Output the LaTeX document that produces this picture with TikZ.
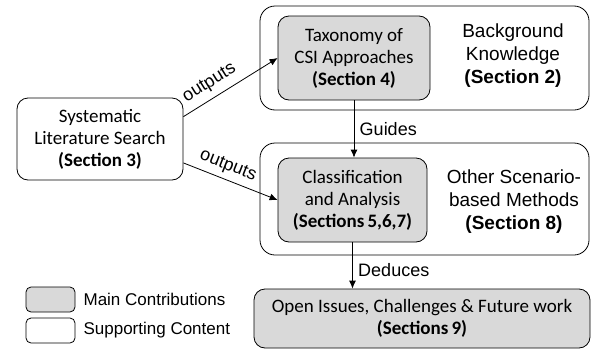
\documentclass[tikz,border=0pt]{standalone}
\usepackage{fontspec}
\setmainfont{Carlito}
\newfontfamily\arialfont{Liberation Sans}
\usetikzlibrary{arrows.meta,positioning}

\begin{document}
\begin{tikzpicture}[x=1pt,y=-1pt,
  box/.style={draw,line width=0.8pt,rounded corners=11pt,align=center,
    font=\fontsize{19}{22}\selectfont,inner sep=0pt},
  contrib/.style={box,fill=black!15},
  outer/.style={draw,line width=0.8pt,rounded corners=15pt},
  side/.style={align=center,font=\arialfont\fontsize{19}{23}\selectfont},
  lbl/.style={font=\arialfont\fontsize{18}{20}\selectfont},
  legtxt/.style={font=\arialfont\fontsize{17}{20}\selectfont,inner sep=0pt},
  legbox/.style={draw,line width=0.8pt,rounded corners=5pt,minimum width=49pt,minimum height=25pt,inner sep=0pt}]
  \useasboundingbox (0,0) rectangle (591,351);
  % outer groups
  \node[outer,minimum width=329pt,minimum height=104pt] (bgk) at (424.5,58) {};
  \node[outer,minimum width=329pt,minimum height=112pt] (osm) at (424.5,199) {};
  % boxes
  \node[box,minimum width=166pt,minimum height=82pt]     (sls) at (100,139)
    {Systematic\\Literature Search\\\textbf{(Section 3)}};
  \node[contrib,minimum width=152pt,minimum height=84pt] (tax) at (354,58)
    {Taxonomy of\\CSI Approaches\\\textbf{(Section 4)}};
  \node[contrib,minimum width=149pt,minimum height=84pt] (cla) at (352.5,200)
    {Classification\\and Analysis\\\textbf{(Sections\,5,6,7)}};
  \node[contrib,minimum width=336pt,minimum height=59pt] (oic) at (422,318.5)
    {Open Issues, Challenges \& Future work\\\textbf{(Sections\,9)}};
  \node[side] (bgkt) at (513,56) {Background\\Knowledge\\\textbf{(Section 2)}};
  \node[side] (osmt) at (514,202) {Other Scenario-\\based Methods\\\textbf{(Section 8)}};
  % legend
  \node[legbox,fill=black!15] (leg1) at (50.5,299.5) {};
  \node[legbox]               (leg2) at (50.5,330.5) {};
  \node[legtxt,right=8pt of leg1] (leg1t) {Main Contributions};
  \node[legtxt,right=8pt of leg2] (leg2t) {Supporting Content};
  % connectors
  \path[line width=0.8pt,-{Latex[length=8pt,width=7pt]}]
  (sls.15)  edge node[lbl,sloped,above=3pt,pos=0.36] {outputs} (tax.west)
  (sls.-16) edge node[lbl,sloped,above=2pt,pos=0.42] {outputs} (cla.west)
  (tax.south) edge node[lbl,right=2pt] {Guides} (tax.south |- cla.north)
  (cla.south) edge node[lbl,right=2pt,pos=0.6] {Deduces} (cla.south |- oic.north);
\end{tikzpicture}
\end{document}
